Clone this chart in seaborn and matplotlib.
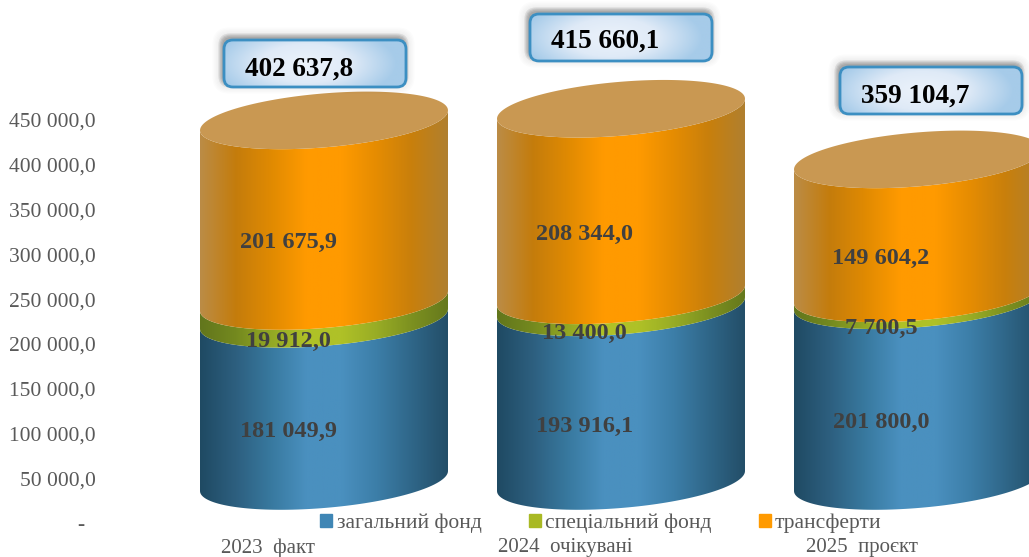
import numpy as np
import seaborn as sns
import matplotlib.pyplot as plt
from matplotlib.colors import LinearSegmentedColormap
from matplotlib.patches import FancyBboxPatch, Patch, Polygon
from matplotlib.transforms import IdentityTransform

years = ['2023  факт', '2024  очікувані', '2025  проєкт']
general = [181049.9, 193916.1, 201800.0]
special = [19912.0, 13400.0, 7700.5]
transfers = [201675.9, 208344.0, 149604.2]
totals = ['402 637,8', '415 660,1', '359 104,7']
series_names = ['загальний фонд', 'спеціальний фонд', 'трансферти']
y_ticks = [0, 50000, 100000, 150000, 200000, 250000, 300000, 350000, 400000, 450000]
y_labels = ['-  ', '50 000,0', '100 000,0', '150 000,0', '200 000,0', '250 000,0',
            '300 000,0', '350 000,0', '400 000,0', '450 000,0']

# scale of the picture
W, H = 1029, 557
PX_X = 297.0
PX_Y = 0.8956 / 1000
X0, Y0 = 268, 523

# 3d look of the cylinders, in pixels
DEPTH_X, DEPTH_Y = 56, 42
SHEAR, MINOR = 10, 27

# total boxes: left, top in pixels from the top left corner, then the text shift
box_pos = [(224, 40), (530, 14), (840, 67)]
box_text_dy = [6, 4, 6]
BOX_W, BOX_H = 182, 47

sns.set_style('white')
plt.rcParams['font.family'] = ['Liberation Serif', 'DejaVu Serif']

fig = plt.figure(figsize=(W / 100, H / 100), dpi=100)
ax = fig.add_axes([100 / W, (H - Y0) / H, (W - 100) / W, Y0 / H])

side_maps = [
    ['#1f4a63', '#2d5f7f', '#38799f', '#4a90bf', '#4a90bf', '#3c7ea8', '#2f6688', '#234e68'],
    ['#62761c', '#74891f', '#93a824', '#afc127', '#afc127', '#98ac25', '#7c9020', '#66791c'],
    ['#bb8c46', '#c47c0c', '#e08a02', '#ff9a00', '#ff9a00', '#e58c02', '#c87f0c', '#b08030'],
]
legend_colors = ['#3f86b5', '#a9b924', '#ff9a00']

bottom = np.zeros(3)
for name, values, stops in zip(series_names, [general, special, transfers], side_maps):
    sns.barplot(x=years, y=values, bottom=bottom, width=248 / PX_X, color=stops[3],
                errorbar=None, ax=ax)
    cmap = LinearSegmentedColormap.from_list(name, stops)
    for bar in ax.containers[-1]:
        bar.set_visible(False)
        a = bar.get_width() * PX_X / 2
        cx = bar.get_x() + bar.get_width() / 2 + DEPTH_X / PX_X
        t = np.linspace(np.pi, 2 * np.pi, 80)
        ex = cx + a * np.cos(t) / PX_X
        ey = (SHEAR * np.cos(t) + MINOR * np.sin(t)) / PX_Y
        y0 = bar.get_y() + DEPTH_Y / PX_Y
        y1 = y0 + bar.get_height()
        pts = np.r_[np.c_[ex, ey + y0], np.c_[ex[::-1], ey[::-1] + y1]]
        im = ax.imshow(np.linspace(0, 1, 256)[None, :], cmap=cmap, aspect='auto',
                       extent=[ex[0], ex[-1], y0 - 40 / PX_Y, y1 + 40 / PX_Y], zorder=2)
        im.set_clip_path(Polygon(pts, transform=ax.transData))
    bottom = bottom + np.array(values)

# lids
for bar, top in zip(ax.containers[-1], bottom):
    a = bar.get_width() * PX_X / 2
    cx = bar.get_x() + bar.get_width() / 2 + DEPTH_X / PX_X
    t = np.linspace(0, 2 * np.pi, 160)
    lid = np.c_[cx + a * np.cos(t) / PX_X,
                top + DEPTH_Y / PX_Y + (SHEAR * np.cos(t) + MINOR * np.sin(t)) / PX_Y]
    ax.add_patch(Polygon(lid, facecolor='#c99852', edgecolor='none', zorder=3))

ax.set_xlim((100 - X0) / PX_X, (W - X0) / PX_X)
ax.set_ylim(0, Y0 / PX_Y)

# value labels
bottom = np.zeros(3)
for values in [general, special, transfers]:
    for i, v in enumerate(values):
        label = f'{v:,.1f}'.replace(',', ' ').replace('.', ',')
        ax.annotate(label, (i, bottom[i] + v / 2), xytext=(20 - i / 2, 10), textcoords='offset pixels',
                    ha='center', va='center', fontsize=17.5, fontweight='bold',
                    color='#404040', zorder=5)
    bottom = bottom + np.array(values)

# total boxes
box_fill = LinearSegmentedColormap.from_list('box', ['#ecf3fb', '#dfeaf7', '#a6cbe9'])
yy, xx = np.mgrid[-1:1:60j, -1:1:180j]
glow = np.clip(np.hypot(xx + 0.1, yy * 0.6), 0, 1)
for (left, top), text, text_dy in zip(box_pos, totals, box_text_dy):
    x, y = left, H - top - BOX_H
    for i in range(9):
        ax.add_patch(FancyBboxPatch((x - 2, y + 3), BOX_W + 1, BOX_H, clip_on=False,
                                    boxstyle=f'round,pad={i * 1.2},rounding_size={9 + i}',
                                    facecolor='#101010', edgecolor='none', alpha=0.09 if i < 4 else 0.012,
                                    transform=IdentityTransform(), zorder=6))
    frame = FancyBboxPatch((x, y), BOX_W, BOX_H, boxstyle='round,pad=0,rounding_size=9',
                           facecolor='none', edgecolor='#3c8fc2', linewidth=2,
                           transform=IdentityTransform(), zorder=8, clip_on=False)
    im = ax.imshow(glow, cmap=box_fill, vmin=0, vmax=1, aspect='auto', zorder=7,
                   extent=[(x - X0) / PX_X, (x + BOX_W - X0) / PX_X,
                           (y - (H - Y0)) / PX_Y, (y + BOX_H - (H - Y0)) / PX_Y])
    im.set_clip_path(FancyBboxPatch((x, y), BOX_W, BOX_H, boxstyle='round,pad=0,rounding_size=9',
                                    transform=IdentityTransform()))
    ax.add_patch(frame)
    ax.text(x + 21, y + BOX_H / 2 - text_dy, text, transform=IdentityTransform(), ha='left', va='center',
            fontsize=19.5, fontweight='bold', color='black', zorder=9)

ax.set_xlim((100 - X0) / PX_X, (W - X0) / PX_X)
ax.set_ylim(0, Y0 / PX_Y)

ax.set_yticks(y_ticks, y_labels)
ax.tick_params(axis='y', length=0, pad=3, labelsize=15.5, labelcolor='#595959')
ax.tick_params(axis='x', length=0, pad=11, labelsize=15, labelcolor='#595959')
ax.set_xlabel('')
ax.set_ylabel('')
sns.despine(ax=ax, left=True, bottom=True)
ax.patch.set_alpha(0)

handles = [Patch(color=c) for c in legend_colors]
ax.legend(handles, series_names, ncols=3, frameon=False, loc='center',
          bbox_to_anchor=(601 / W, (H - 523) / H), bbox_transform=fig.transFigure,
          fontsize=15.5, labelcolor='#595959', handlelength=0.55, handleheight=0.55,
          handletextpad=0.2, columnspacing=2.2, borderpad=0, borderaxespad=0)

fig.savefig('out.png', dpi=100)
